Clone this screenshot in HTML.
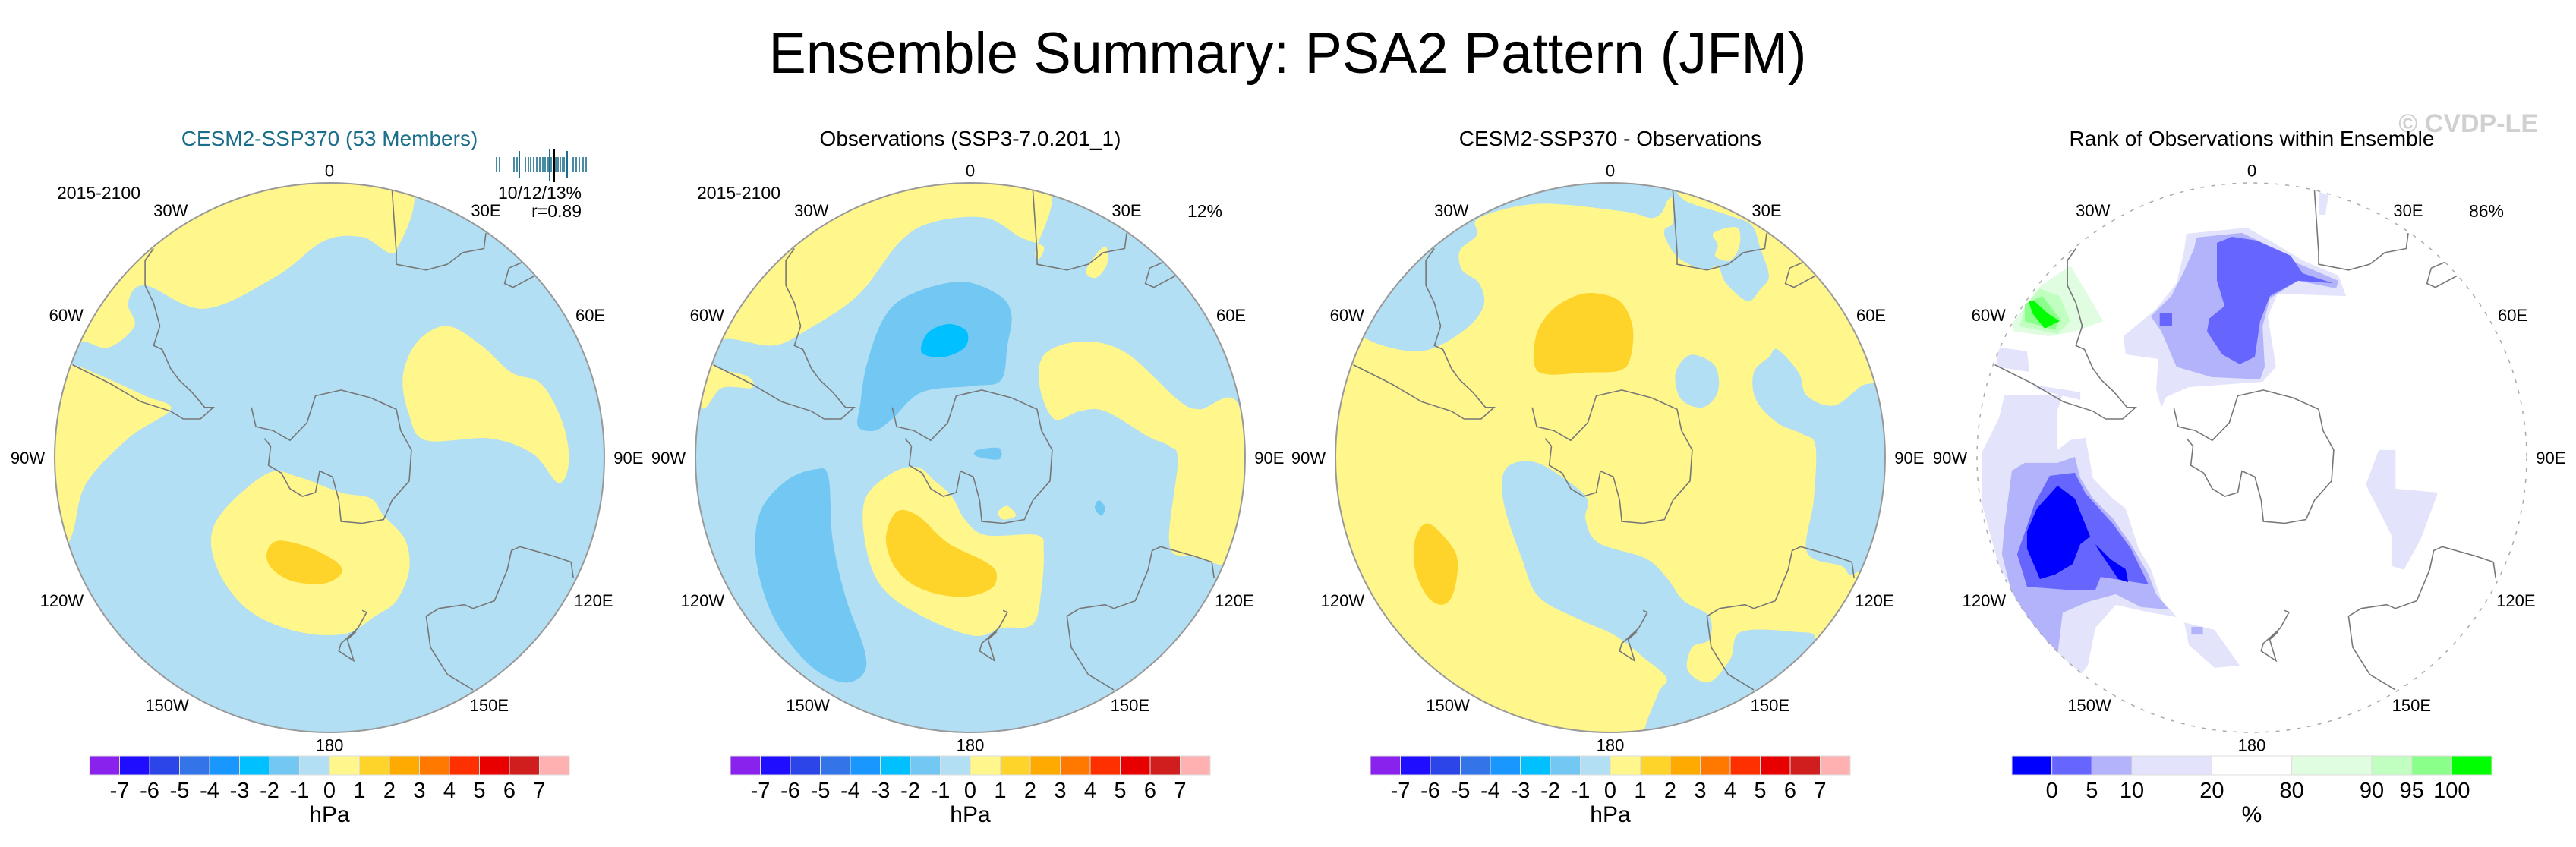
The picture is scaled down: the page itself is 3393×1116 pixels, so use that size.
<!DOCTYPE html>
<html><head><meta charset="utf-8"><title>Ensemble Summary: PSA2 Pattern (JFM)</title>
<style>html,body{margin:0;padding:0;background:#fff}svg{display:block}text{font-family:"Liberation Sans",sans-serif}</style>
</head><body>
<svg id="fig" xmlns="http://www.w3.org/2000/svg" width="3393" height="1116" viewBox="0 0 3393 1116">
<rect width="3393" height="1116" fill="#fff"/>
<text x="1696" y="96" font-size="76" text-anchor="middle" textLength="1367" lengthAdjust="spacingAndGlyphs">Ensemble Summary: PSA2 Pattern (JFM)</text>
<text x="3343" y="174" font-size="34" font-weight="bold" fill="#d0d0d0" text-anchor="end">© CVDP-LE</text>
<g id="root"></g>
</svg>
<script>
// ---------- data ----------
const panelTitles=["CESM2-SSP370 (53 Members)","Observations (SSP3-7.0.201_1)","CESM2-SSP370 - Observations","Rank of Observations within Ensemble"];
const panelCenters=[434,1278,2121,2966];
const hpaColors=["#8a22ee","#1e0dff","#2b45e8","#3374e8","#1a96ff","#00c0ff","#72c8f2","#b2dff3","#fff68c","#ffd42a","#ffaa00","#ff7800","#ff3000","#e80000","#d01e1e","#ffb0b0"];
const hpaTicks=["-7","-6","-5","-4","-3","-2","-1","0","1","2","3","4","5","6","7"];
const rankColors=["#0000ff","#6666ff","#b3b3fb","#e3e3fb","#ffffff","#e1fde1","#c0ffc0","#8aff8a","#00ff00"];
const rankWidths=[1,1,1,2,2,2,1,1,1];
const rankTicks=["0","5","10","20","80","90","95","100"];
const lonLabels=["0","30W","30E","60W","60E","90W","90E","120W","120E","150W","150E","180"];
const lonPos=[[0,-1.045],[-.578,-.9],[.569,-.9],[-.958,-.52],[.949,-.52],[-1.098,0],[1.088,0],[-.974,.52],[.961,.52],[-.591,.9],[.581,.9],[0,1.045]];
const memberTicks=[654,658,677,681,692,696,699,703,707,711,715,718,721,723,726,729,732,735,738,741,743,746,755,759,763,768,772];

const p1=[
["#fff68c",[[-.966,-.408],[-.896,-.423],[-.803,-.401],[-.71,-.479],[-.733,-.563],[-.671,-.627],[-.454,-.542],[-.191,-.662],[-.02,-.789],[.119,-.803],[.243,-.754],[.228,-1.05],[-.733,-1.05],[-.966,-.69]]],
["#fff68c",[[-.935,-.338],[-.842,-.303],[-.671,-.225],[-.578,-.176],[-.733,-.07],[-.888,.099],[-.943,.296],[-1.05,.437],[-1.05,-.352]]],
["#fff68c",[[.429,-.479],[.553,-.408],[.662,-.31],[.771,-.268],[.848,-.127],[.871,.014],[.833,.092],[.74,-.014],[.584,-.07],[.352,-.063],[.29,-.155],[.267,-.296],[.321,-.423]]],
["#fff68c",[[-.222,.056],[-.113,.07],[.042,.127],[.15,.148],[.197,.211],[.274,.296],[.29,.408],[.243,.521],[.166,.577],[.057,.641],[-.113,.634],[-.284,.563],[-.392,.437],[-.431,.296],[-.377,.183]]],
["#ffd42a",[[-.191,.303],[-.082,.324],[.026,.38],[.042,.423],[-.02,.458],[-.129,.451],[-.206,.408],[-.229,.352]]]
];
const p2=[
["#fff68c",[[-.981,-.183],[-.904,-.254],[-.795,-.254],[-.811,-.296],[-.935,-.338],[-.896,-.43],[-.718,-.408],[-.594,-.465],[-.408,-.592],[-.253,-.789],[-.129,-.859],[.057,-.873],[.181,-.803],[.267,-.768],[.236,-.739],[.228,-1.05],[-.718,-1.05],[-1.05,-.408]]],
["#fff68c",[[.491,-.769],[.498,-.706],[.46,-.656],[.422,-.67],[.437,-.713]]],
["#fff68c",[[.414,-.423],[.569,-.38],[.755,-.211],[.833,-.176],[.98,-.183],[1.02,.352],[.802,.359],[.724,.31],[.755,.014],[.724,-.042],[.647,-.077],[.491,-.169],[.398,-.169],[.305,-.141],[.251,-.268],[.274,-.38]]],
["#fff68c",[[-.284,.056],[-.191,.035],[-.129,.085],[-.067,.141],[-.02,.225],[.057,.282],[.243,.282],[.267,.338],[.259,.479],[.228,.606],[.119,.62],[.011,.648],[-.175,.577],[-.315,.479],[-.377,.338],[-.384,.155]]],
["#ffd42a",[[-.268,.197],[-.191,.211],[-.082,.31],[.057,.38],[.096,.423],[.073,.479],[-.036,.507],[-.175,.479],[-.268,.408],[-.307,.296]]],
["#fff68c",[[.135,.176],[.166,.211],[.119,.225],[.101,.197]]],
["#72c8f2",[[-.036,-.641],[.104,-.592],[.15,-.521],[.135,-.408],[.112,-.282],[.011,-.261],[-.175,-.239],[-.284,-.141],[-.346,-.099],[-.408,-.113],[-.4,-.197],[-.377,-.338],[-.315,-.507],[-.222,-.592]]],
["#00c0ff",[[-.067,-.486],[-.012,-.458],[-.02,-.401],[-.098,-.366],[-.175,-.38],[-.167,-.437],[-.129,-.472]]],
["#72c8f2",[[-.563,.042],[-.516,.07],[-.501,.296],[-.454,.507],[-.384,.704],[-.391,.789],[-.47,.817],[-.594,.746],[-.718,.577],[-.78,.366],[-.764,.197],[-.671,.085]]],
["#72c8f2",[[.026,-.028],[.104,-.035],[.112,0],[.081,.007],[.019,-.007]]],
["#72c8f2",[[.468,.155],[.491,.183],[.476,.211],[.453,.183]]]
];
const p3=[
["#b2dff3",[[-.896,-.437],[-.695,-.387],[-.539,-.458],[-.462,-.549],[-.477,-.634],[-.539,-.683],[-.547,-.754],[-.485,-.81],[-.477,-.873],[-.26,-.924],[.05,-.896],[.158,-.873],[.205,-.93],[.22,-1.05],[-.726,-1.05],[-.957,-.549]]],
["#b2dff3",[[.228,-.972],[.282,-.93],[.437,-.88],[.515,-.845],[.546,-.761],[.577,-.662],[.546,-.613],[.499,-.57],[.422,-.634],[.391,-.697],[.344,-.683],[.251,-.725],[.205,-.789],[.198,-.831],[.229,-.859]]],
["#fff68c",[[.375,-.817],[.46,-.838],[.471,-.775],[.437,-.718],[.383,-.732],[.391,-.775]]],
["#b2dff3",[[.313,-.373],[.383,-.331],[.391,-.239],[.336,-.183],[.259,-.211],[.236,-.296],[.267,-.359]]],
["#b2dff3",[[.608,-.394],[.685,-.31],[.716,-.225],[.817,-.19],[.933,-.268],[.995,-.197],[1.011,.296],[.887,.423],[.84,.394],[.716,.345],[.74,.155],[.747,-.042],[.701,-.085],[.608,-.127],[.53,-.211],[.522,-.31],[.577,-.366]]],
["#b2dff3",[[-.353,.021],[-.26,.021],[-.136,.099],[-.082,.155],[-.09,.225],[-.043,.31],[.127,.366],[.205,.437],[.267,.521],[.36,.577],[.36,.662],[.298,.69],[.282,.775],[.36,.817],[.437,.732],[.476,.634],[.67,.634],[.747,.662],[.67,.831],[.515,.887],[.282,1.0],[.127,1.02],[.174,.859],[.205,.803],[.127,.732],[.019,.648],[-.105,.592],[-.26,.507],[-.322,.366],[-.384,.183],[-.392,.07]]],
["#ffd42a",[[-.059,-.599],[.034,-.57],[.081,-.479],[.074,-.366],[.034,-.317],[-.09,-.31],[-.229,-.303],[-.276,-.338],[-.268,-.451],[-.214,-.535],[-.136,-.585]]],
["#ffd42a",[[-.664,.239],[-.586,.31],[-.555,.38],[-.571,.493],[-.609,.535],[-.664,.507],[-.71,.408],[-.71,.296]]]
];
const p4=[
["#e3e3fb",[[-.238,-.815],[-.017,-.837],[.066,-.79],[.185,-.718],[.315,-.663],[.343,-.588],[.094,-.597],[.058,-.514],[.088,-.331],[.039,-.276],[-.229,-.257],[-.312,-.221],[-.329,-.182],[-.348,-.249],[-.34,-.359],[-.459,-.376],[-.467,-.442],[-.348,-.541],[-.274,-.635],[-.246,-.754]]],
["#b3b3fb",[[-.202,-.801],[-.036,-.818],[.058,-.773],[.168,-.707],[.315,-.644],[.307,-.616],[.168,-.644],[.066,-.58],[.039,-.478],[.047,-.331],[.03,-.285],[-.146,-.293],[-.274,-.331],[-.329,-.459],[-.367,-.514],[-.293,-.588],[-.246,-.68],[-.21,-.762]]],
["#6666ff",[[-.127,-.782],[-.072,-.804],[.019,-.79],[.141,-.735],[.185,-.671],[.296,-.635],[.168,-.644],[.066,-.588],[.03,-.497],[.011,-.367],[-.044,-.34],[-.108,-.376],[-.163,-.459],[-.155,-.506],[-.099,-.552],[-.127,-.644]]],
["#6666ff",[[-.335,-.525],[-.29,-.525],[-.29,-.48],[-.335,-.48]]],
["#e3e3fb",[[-.9,-.229],[-.688,-.229],[-.707,-.174],[-.707,-.028],[-.66,-.064],[-.605,-.072],[-.578,.075],[-.506,.149],[-.459,.185],[-.412,.331],[-.367,.406],[-.329,.517],[-.273,.58],[-.367,.564],[-.495,.536],[-.569,.619],[-.597,.757],[-.624,.793],[-.707,.71],[-.826,.553],[-.919,.398],[-.983,.166],[-.983,-.017],[-.919,-.146]]],
["#b3b3fb",[[-.873,.047],[-.826,.019],[-.707,.019],[-.644,-.003],[-.624,.075],[-.578,.149],[-.506,.221],[-.44,.315],[-.376,.425],[-.348,.497],[-.301,.553],[-.403,.544],[-.495,.497],[-.597,.525],[-.688,.564],[-.707,.718],[-.782,.646],[-.873,.497],[-.909,.351],[-.901,.26]]],
["#6666ff",[[-.735,.066],[-.644,.055],[-.605,.13],[-.506,.24],[-.44,.331],[-.376,.461],[-.55,.434],[-.569,.481],[-.671,.481],[-.818,.47],[-.854,.351],[-.818,.249],[-.79,.166]]],
["#0000ff",[[-.707,.102],[-.644,.149],[-.588,.287],[-.624,.315],[-.652,.387],[-.715,.425],[-.771,.442],[-.818,.331],[-.818,.268],[-.782,.185]]],
["#0000ff",[[-.569,.315],[-.514,.37],[-.459,.406],[-.45,.453],[-.486,.442],[-.561,.331]]],
["#e3e3fb",[[-.246,.6],[-.135,.627],[-.044,.757],[-.135,.765],[-.229,.682]]],
["#b3b3fb",[[-.22,.616],[-.178,.616],[-.178,.644],[-.22,.644]]],
["#e3e3fb",[[.462,-.028],[.523,-.028],[.523,.113],[.677,.127],[.615,.296],[.554,.408],[.508,.394],[.508,.282],[.415,.099]]],
["#e3e3fb",[[-.928,-.403],[-.818,-.387],[-.809,-.312],[-.928,-.331]]],
["#e3e3fb",[[-.79,-.265],[-.624,-.238],[-.624,-.21],[-.782,-.249]]],
["#e3e3fb",[[.246,-.967],[.279,-.956],[.268,-.884],[.246,-.884]]],
["#e1fde1",[[-.873,-.486],[-.771,-.624],[-.66,-.699],[-.605,-.608],[-.541,-.497],[-.644,-.459],[-.735,-.442],[-.865,-.459]]],
["#c0ffc0",[[-.826,-.552],[-.771,-.616],[-.699,-.588],[-.66,-.497],[-.707,-.45],[-.845,-.478]]],
["#8aff8a",[[-.826,-.56],[-.762,-.588],[-.699,-.506],[-.716,-.464],[-.826,-.497]]],
["#00ff00",[[-.812,-.569],[-.79,-.569],[-.743,-.525],[-.699,-.497],[-.754,-.47],[-.798,-.525]]]
];
const panelRegions=[p1,p2,p3,p4];
const panelBg=["#b2dff3","#b2dff3","#fff68c","#ffffff"];
const coasts=[
[[-.284,-.183],[-.268,-.113],[-.206,-.099],[-.144,-.063],[-.082,-.127],[-.051,-.225],[.042,-.246],[.15,-.218],[.243,-.176],[.259,-.099],[.298,-.028],[.29,.085],[.228,.155],[.197,.225],[.119,.239],[.042,.232],[.034,.155],[.011,.07],[-.036,.049],[-.051,.127],[-.098,.141],[-.144,.113],[-.175,.056],[-.222,.028],[-.214,-.042],[-.237,-.07]],
[[-.935,-.338],[-.795,-.268],[-.687,-.204],[-.578,-.169],[-.532,-.141],[-.47,-.141],[-.423,-.183],[-.454,-.183],[-.501,-.239],[-.547,-.282],[-.578,-.324],[-.609,-.394],[-.64,-.408],[-.617,-.479],[-.64,-.563],[-.671,-.627],[-.671,-.718],[-.64,-.761]],
[[.228,-.972],[.243,-.746],[.243,-.704],[.352,-.683],[.429,-.704],[.484,-.746],[.562,-.761],[.569,-.817]],
[[.701,-.711],[.653,-.69],[.637,-.634],[.668,-.62],[.746,-.662]],
[[.522,.845],[.429,.789],[.367,.69],[.352,.577],[.398,.549],[.491,.535],[.522,.549],[.6,.521],[.647,.408],[.662,.338],[.693,.324],[.817,.359],[.879,.38],[.887,.437]],
[[.119,.556],[.135,.563],[.104,.62],[.074,.648],[.042,.676],[.034,.704],[.088,.739],[.065,.662],[.096,.634]]
];

// ---------- drawing ----------
const NS="http://www.w3.org/2000/svg";
const CY=603,R=362;
const root=document.getElementById('root');
function mk(tag,attrs,parent){const e=document.createElementNS(NS,tag);for(const k in attrs)e.setAttribute(k,attrs[k]);(parent||root).appendChild(e);return e;}
function proj(cx,p){return [cx+p[0]*R,CY+p[1]*R];}
function smoothPath(pts){const n=pts.length;let d="M"+pts[0][0].toFixed(1)+","+pts[0][1].toFixed(1);
 for(let i=0;i<n;i++){const p0=pts[(i-1+n)%n],p1=pts[i],p2=pts[(i+1)%n],p3=pts[(i+2)%n];
  const c1=[p1[0]+(p2[0]-p0[0])/6,p1[1]+(p2[1]-p0[1])/6],c2=[p2[0]-(p3[0]-p1[0])/6,p2[1]-(p3[1]-p1[1])/6];
  d+="C"+c1[0].toFixed(1)+","+c1[1].toFixed(1)+" "+c2[0].toFixed(1)+","+c2[1].toFixed(1)+" "+p2[0].toFixed(1)+","+p2[1].toFixed(1);}
 return d+"Z";}
function polyPath(pts){return "M"+pts.map(p=>p[0].toFixed(1)+","+p[1].toFixed(1)).join("L")+"Z";}
const defs=mk('defs',{});
panelCenters.forEach((cx,i)=>{
 const cp=mk('clipPath',{id:'clip'+i},defs);mk('circle',{cx:cx,cy:CY,r:R},cp);
 const g=mk('g',{});
 
 
 const t=mk('text',{x:cx,y:192,'font-size':28,'text-anchor':'middle',fill:i==0?'#1a6e8a':'#000'},g);
 t.textContent=panelTitles[i];
 
 
 const m=mk('g',{'clip-path':'url(#clip'+i+')'},g);
 
 
 mk('rect',{x:cx-R-5,y:CY-R-5,width:2*R+10,height:2*R+10,fill:panelBg[i]},m);
 panelRegions[i].forEach(r=>{
  const pts=r[1].map(p=>proj(cx,p));
  const e=mk('path',{d:i==3?polyPath(pts):smoothPath(pts),fill:r[0]},m);
  
  
 });
 coasts.forEach(c=>{
  const e=mk('polyline',{points:c.map(p=>proj(cx,p).map(v=>v.toFixed(1)).join(',')).join(' '),fill:'none',stroke:'#777','stroke-width':1.6},m);
  
  
 });
 const o=mk('circle',{cx:cx,cy:CY,r:R,fill:'none',stroke:i==3?'#aaa':'#999','stroke-width':i==3?1.5:2,'stroke-dasharray':i==3?'5 9':'none'},g);
 
 
 lonLabels.forEach((l,j)=>{
  const p=proj(cx,lonPos[j]);
  const e=mk('text',{x:p[0],y:p[1]+8,'font-size':22,'text-anchor':'middle'},g);
  e.textContent=l;
  
  
 });
 const bx=cx-316,bw=632,by=996,bh=25;
 const cb=mk('g',{},g);
 
 
 let cols,widths,ticks,unit;
 if(i<3){cols=hpaColors;widths=hpaColors.map(()=>1);ticks=hpaTicks;unit='hPa';}
 else{cols=rankColors;widths=rankWidths;ticks=rankTicks;unit='%';}
 const tot=widths.reduce((a,b)=>a+b,0);let acc=0;
 cols.forEach((c,k)=>{
  const x0=bx+acc/tot*bw,w=widths[k]/tot*bw;
  const e=mk('rect',{x:x0,y:by,width:w,height:bh,fill:c,stroke:'#ddd','stroke-width':1},cb);
  
  
  acc+=widths[k];
  if(k<ticks.length){
   const tx=bx+acc/tot*bw;
   const e2=mk('text',{x:tx,y:by+bh+30,'font-size':29,'text-anchor':'middle'},cb);
   e2.textContent=ticks[k];
   
   
  }
 });
 const u=mk('text',{x:cx,y:1083,'font-size':30,'text-anchor':'middle'},cb);
 u.textContent=unit;
 
 
});
function label(txt,x,y,anchor,name){const e=mk('text',{x:x,y:y,'font-size':23,'text-anchor':anchor});e.textContent=txt;
 
 }
label('2015-2100',75,262,'start','period-label');
label('2015-2100',918,262,'start','period-label');
label('10/12/13%',766,262,'end','percentile-stats');
label('r=0.89',766,286,'end','pattern-correlation');
label('12%',1610,286,'end','obs-percent');
label('86%',3298,286,'end','rank-percent');
memberTicks.forEach((x,k)=>{
 const e=mk('line',{x1:x,x2:x,y1:207,y2:227,stroke:'#1a6e8a','stroke-width':1.6});
 
 
});
[[724,'#1a6e8a',196,238],[730,'#000',196,240],[747,'#1a6e8a',199,235],[684,'#1a6e8a',199,235]].forEach(t=>{
 const e=mk('line',{x1:t[0],x2:t[0],y1:t[2],y2:t[3],stroke:t[1],'stroke-width':2});
 
 
});
</script>
</body></html>
